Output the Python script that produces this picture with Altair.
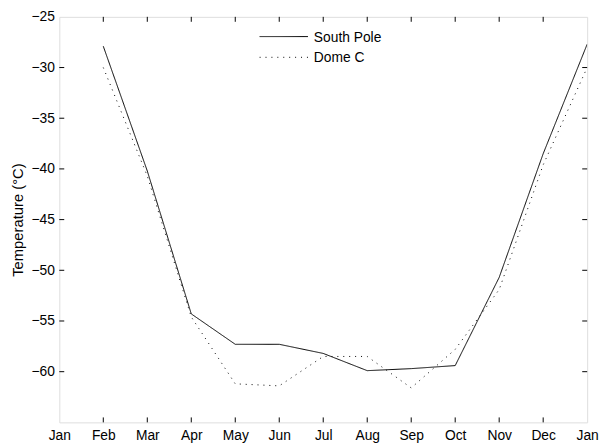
import altair as alt
import pandas as pd

month_labels = ["Jan", "Feb", "Mar", "Apr", "May", "Jun", "Jul", "Aug", "Sep", "Oct", "Nov", "Dec", "Jan"]
months = [1, 2, 3, 4, 5, 6, 7, 8, 9, 10, 11, 12]
south_pole = [-27.9, -40.2, -54.3, -57.3, -57.3, -58.2, -59.9, -59.7, -59.4, -50.7, -38.5, -27.7]
dome_c = [-30.0, -40.7, -54.6, -61.2, -61.4, -58.5, -58.5, -61.6, -57.8, -51.9, -39.6, -30.0]
series_names = ["South Pole", "Dome C"]
series_dash = [[1, 0], [1, 5]]
y_ticks = [-60, -55, -50, -45, -40, -35, -30, -25]
x_ticks = list(range(0, 13))

W, H = 535, 411
FONT = "Liberation Sans"

rows = []
for name, vals in zip(series_names, [south_pole, dome_c]):
    for m, v in zip(months, vals):
        rows.append({"month": m, "temp": v, "station": name})
df = pd.DataFrame(rows)

xscale = alt.Scale(domain=[0, 12], nice=False, zero=False)
yscale = alt.Scale(domain=[-65, -25], nice=False, zero=False)

label_expr = "[" + ",".join(f"'{m}'" for m in month_labels) + "][datum.value]"

lines = alt.Chart(df).mark_line(strokeWidth=1, clip=True).encode(
    x=alt.X("month:Q", scale=xscale,
            axis=alt.Axis(values=x_ticks, labelExpr=label_expr, title=None, ticks=False,
                          domain=False, grid=False, labelPadding=6, labelFlush=False,
                          labelFontSize=14, labelFont=FONT, labelColor="black")),
    y=alt.Y("temp:Q", scale=yscale,
            axis=alt.Axis(values=y_ticks, title="Temperature (°C)", ticks=False, domain=False,
                          grid=False, labelPadding=5, labelFontSize=14, labelFont=FONT,
                          labelFlush=False,
                          labelColor="black", titleFont=FONT, titleFontSize=15,
                          titleFontWeight="normal", titleColor="black", titlePadding=6)),
    detail="station:N",
    strokeDash=alt.StrokeDash("station:N",
                              scale=alt.Scale(domain=series_names, range=series_dash),
                              legend=None),
    color=alt.value("black"),
)

xt = pd.DataFrame({"m": x_ticks[1:-1]})
yt = pd.DataFrame({"v": y_ticks[:-1]})
TL = 5

xb = alt.Chart(xt).mark_rule(color="black", strokeWidth=1).encode(
    x=alt.X("m:Q", scale=xscale), y=alt.value(H), y2=alt.value(H - TL))
xtp = alt.Chart(xt).mark_rule(color="black", strokeWidth=1).encode(
    x=alt.X("m:Q", scale=xscale), y=alt.value(0), y2=alt.value(TL))
yl = alt.Chart(yt).mark_rule(color="black", strokeWidth=1).encode(
    y=alt.Y("v:Q", scale=yscale), x=alt.value(0), x2=alt.value(TL))
yr = alt.Chart(yt).mark_rule(color="black", strokeWidth=1).encode(
    y=alt.Y("v:Q", scale=yscale), x=alt.value(W), x2=alt.value(W - TL))

# legend (manual, upper centre)
LX, LY, ROW = 203, 20, 21
legend_layers = []
for i, (name, dash) in enumerate(zip(series_names, series_dash)):
    ld = pd.DataFrame({"station": [name]})
    legend_layers.append(
        alt.Chart(ld).mark_rule(color="black", strokeWidth=1, strokeDash=dash).encode(
            x=alt.value(LX), x2=alt.value(LX + 49), y=alt.value(LY + i * ROW)))
    legend_layers.append(
        alt.Chart(ld).mark_text(align="left", baseline="middle", font=FONT, fontSize=14,
                                color="black").encode(
            x=alt.value(LX + 55), y=alt.value(LY + i * ROW + 1), text="station:N"))

chart = alt.layer(lines, xb, xtp, yl, yr, *legend_layers).properties(
    width=W, height=H,
    autosize=alt.AutoSizeParams(type="none"),
    padding={"left": 52, "top": 6, "right": 12, "bottom": 22},
).configure_view(stroke="black", strokeWidth=1).configure(background="white")

chart.save("out.html", embed_options={"renderer": "svg", "actions": False})
